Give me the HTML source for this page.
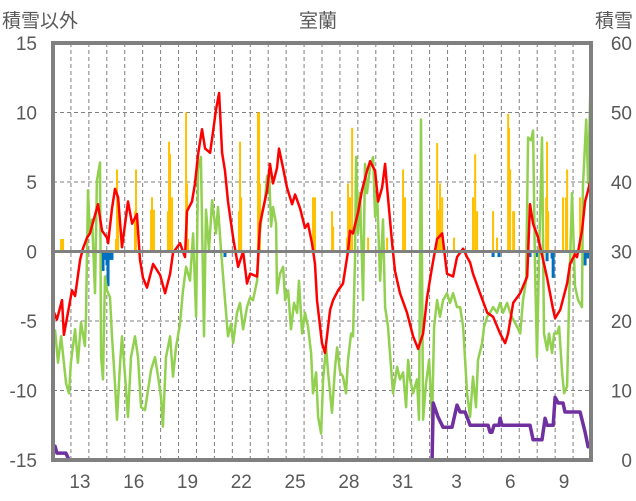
<!DOCTYPE html>
<html><head><meta charset="utf-8">
<style>
html,body{margin:0;padding:0;background:#fff;}
svg{display:block;font-family:"Liberation Sans","Noto Sans CJK JP",sans-serif;}
</style></head>
<body>
<svg id="chart" width="636" height="501" viewBox="0 0 636 501">
  <text x="318" y="27" text-anchor="middle" font-size="19" fill="#595959">室蘭</text>
  <text x="2" y="27" font-size="19" fill="#595959">積雪以外</text>
  <text x="633" y="27" text-anchor="end" font-size="19" fill="#595959">積雪</text>
  <g id="grid"></g>
  <g id="bars"></g>
  <g id="lines"></g>
  <g id="axes"></g>
</svg>
<script>
const dayLabels = ["13","16","19","22","25","28","31","3","6","9"];
const dayLabelIdx = [1,4,7,10,13,16,19,22,25,28];
const leftTicks = [15,10,5,0,-5,-10,-15];
const rightTicks = [60,50,40,30,20,10,0];

const redT = [0,0.22,0.5,0.61,1.06,1.23,1.51,1.67,1.9,2.06,2.51,2.73,3.01,3.07,3.29,3.46,3.63,3.85,4.18,4.41,4.68,4.85,5.02,5.24,5.58,5.97,6.25,6.53,6.69,7.08,7.36,7.47,7.75,7.92,8.09,8.31,8.48,8.76,8.92,9.09,9.26,9.43,9.59,9.76,10.04,10.32,10.6,10.82,10.99,11.38,11.54,11.94,12.1,12.27,12.49,12.6,12.83,13.05,13.33,13.5,13.78,14.05,14.22,14.44,14.61,14.72,15,15.17,15.45,15.62,15.9,16.17,16.45,16.56,16.73,17.01,17.23,17.51,17.68,17.96,18.13,18.35,18.52,18.63,18.91,19.07,19.35,19.74,20.08,20.36,20.64,20.86,21.14,21.42,21.7,21.86,21.97,22.31,22.53,22.87,23.09,23.26,23.42,23.81,24.21,24.54,24.93,25.21,25.38,25.66,26.05,26.44,26.6,26.77,27.05,27.33,27.55,27.89,28,28.28,28.67,28.83,29.11,29.22,29.5,29.67,29.84,30];
const redV = [-4.2,-4.9,-3.5,-6,-2.8,-3.2,-0.6,0.2,1,1.3,3.4,1.5,1,0.6,3.1,4.5,3.9,0.3,3.6,2,2.7,-0.6,-1.9,-2.6,-0.9,-1.7,-3,-1.6,-0.1,0.6,-0.4,2.9,3.6,4.9,7,8.8,7.4,7.1,8.6,10.2,11.4,7.1,5.8,3.6,1,-1.1,0,-2.3,-1.6,-1.8,2,4.4,6.3,4.9,6,7.4,6,4.6,3.4,4.1,3.1,1.7,2,0.6,-0.9,-3.5,-6.6,-7.3,-4.2,-3.5,-2.8,-2.3,0,1.5,1.3,2.8,4.4,5.8,6.5,5.8,3.6,4.6,6.3,4.6,0.6,-1.4,-3,-4.4,-6.1,-7,-5.9,-3.3,-1.1,0.9,1.3,-0.4,-1.6,-1.8,-0.4,0.2,-0.4,-0.8,-1.6,-3,-4.4,-4.7,-5.9,-6.6,-5.9,-3.7,-3,-1.8,3.4,2,1,-0.6,-1.9,-4.2,-4.8,-4.2,-2.3,-0.9,-0.2,-0.4,1.5,3.6,4.4,5.3];

const greenT = [0.11,0.28,0.45,0.73,0.89,1.00,1.23,1.39,1.56,1.78,1.84,1.95,2.06,2.18,2.34,2.45,2.62,2.68,2.79,2.90,3.01,3.18,3.29,3.46,3.57,3.74,3.85,4.02,4.18,4.35,4.57,4.74,4.91,5.13,5.30,5.47,5.69,5.86,6.02,6.13,6.30,6.53,6.69,6.86,7.08,7.25,7.42,7.64,7.81,7.98,8.09,8.25,8.42,8.53,8.70,8.87,9.09,9.20,9.37,9.59,9.76,9.93,10.04,10.26,10.43,10.60,10.82,10.99,11.15,11.38,11.49,11.66,11.82,11.94,12.05,12.16,12.27,12.44,12.49,12.66,12.83,12.94,13.11,13.27,13.44,13.61,13.72,13.89,14.05,14.22,14.39,14.50,14.67,14.78,14.95,15.06,15.23,15.34,15.56,15.73,15.84,16.01,16.17,16.34,16.45,16.62,16.73,16.84,16.90,17.01,17.12,17.29,17.40,17.51,17.68,17.85,17.96,18.07,18.24,18.40,18.52,18.68,18.85,18.96,19.19,19.35,19.52,19.69,19.80,19.91,20.08,20.30,20.41,20.52,20.64,20.80,20.97,21.14,21.25,21.42,21.58,21.75,21.97,22.14,22.31,22.53,22.70,22.87,22.98,23.09,23.26,23.42,23.59,23.70,23.93,24.04,24.21,24.37,24.54,24.76,24.93,25.10,25.32,25.49,25.66,25.88,26.05,26.21,26.38,26.49,26.66,26.77,26.88,26.99,27.11,27.27,27.38,27.55,27.66,27.83,27.94,28.11,28.22,28.39,28.50,28.67,28.78,28.94,29.11,29.28,29.50,29.55,29.73,29.84,29.95,30.00];
const greenV = [-5.6,-8.0,-6.1,-9.5,-10.2,-8,-5.6,-8,-5.1,-6.8,-4.7,4.4,1.3,2.3,-3.0,5.1,6.4,-7.6,-9.2,-1.8,-2.8,-3.3,-6.1,-9.5,-12.1,-8,-6.1,-9.0,-11.9,-7.6,-6.1,-7.6,-11.2,-11.4,-10.0,-8.5,-7.6,-9.0,-10.5,-12.6,-7.6,-6.1,-9.0,-6.9,-5.2,-2.8,-1.1,-2.1,1.3,-4.7,5.9,6.8,-6.1,3.0,0.1,3.7,1.3,3.2,0.1,-3.5,-6.1,-5.2,-6.6,-4.4,-3.7,-5.6,-4.0,-3.3,-3.5,-2.1,0.8,2.8,3.7,5.4,5.6,1.8,3.2,2.0,-3.0,-1.6,-1.1,-3.5,-2.8,-5.6,-3.7,-4.4,-2.1,-5.9,-4.4,-5.4,-7.3,-10.2,-8.7,-11.9,-13.1,-9.2,-6.9,-8.7,-11.6,-8.3,-6.9,-8.7,-9.0,-10.2,-7.8,-5.9,-6.1,-0.6,6.8,1.3,4.2,-3.5,6.3,4.2,6.1,6.8,2.5,4.2,-2.1,2.3,-4.0,-5.4,-8.3,-10.2,-8.3,-9.2,-8.7,-11.2,-7.8,-9.2,-10.2,-9.2,-12.1,9.5,-12.1,-9.5,-7.8,-12.1,-5.4,-3.5,-4.7,-3.5,-3.0,-3.7,-3.0,-4.0,-4.0,-5.4,-7.8,-10.2,-11.9,-9.0,-11.2,-7.8,-6.6,-5.4,-4.7,-4.4,-4.0,-4.4,-3.7,-4.4,-3.7,-4.4,-4.9,-5.4,-5.9,-3.5,-2.1,8.2,8.0,8.7,-1.1,-7.6,0.1,8.2,-5.9,-7.1,-5.9,-7.3,-5.9,-5.9,-5.4,-8.7,-10.2,-9.7,-3.5,4.2,-2.5,-3.5,-4.0,4.6,9.5,4.9,10.9,13.4];

const rainT = [0.45,0.56,3.51,3.57,3.63,4.57,4.63,5.47,5.52,5.63,6.41,6.47,6.53,6.64,7.42,7.47,7.53,10.37,10.43,10.49,11.43,11.49,11.54,14.5,14.61,15.56,15.62,16.4,16.45,16.56,16.68,17.57,18.63,19.52,19.63,21.42,21.47,21.58,21.7,22.36,23.42,23.54,23.65,24.54,24.76,25.38,25.43,25.49,25.66,25.71,26.44,27.5,27.55,27.61,28.44,28.61,28.67,29.39];
const rainV = [0.9,0.9,0.9,5.9,3.9,2.9,5.9,3,3.9,3,2.9,7.9,7,3.9,10,4.9,0.9,2.9,7.9,3.9,10,10,4.9,3.9,3.9,2.9,1.8,1,4.9,3.9,8.9,1,1,5.9,3.9,7.8,3,4.9,3.9,1,3.9,7,2.9,2.9,1,9.9,8.9,5.9,2.9,2.9,1.9,3.9,7.9,2.9,3.9,3.9,5.9,3.9];

const blueT = [2.79,2.9,3.01,3.07,3.18,3.29,9.59,24.54,24.87,26.6,26.99,27.55,27.83,27.89,29.67,29.78,29.84];
const blueV = [-1.4,-0.6,-1,-2.5,-0.6,-0.6,-0.4,-0.4,-0.4,-0.4,-0.4,-0.7,-0.5,-1.9,-1,-0.5,-0.5];

const snowT = [0,0.11,0.22,0.72,0.89,21.14,21.2,21.47,21.75,22.25,22.53,22.7,22.98,23.26,24.26,24.37,24.48,24.59,24.87,24.93,25.04,26.6,26.77,27.27,27.44,27.55,27.89,28,28.17,28.44,28.55,29.39,29.67,29.84,30];
const snowV = [2,2,1,1,0,0,8.2,6.2,4.7,4.7,7.9,6.9,6.9,5,5,4,4,5,5,6,5,5,2.9,2.9,6,5,5,9,8.2,8.2,6.9,6.9,4,1.9,1.9];

const PL=53, PR=591, PT=43, PB=460, NDAYS=30;
function xs(d){return PL+(PR-PL)*d/NDAYS;}
function yl(v){return PT+(15-v)*(PB-PT)/30;}
function yr(v){return PB-v*(PB-PT)/60;}
const NS="http://www.w3.org/2000/svg";
function mk(tag,attrs,parent){const e=document.createElementNS(NS,tag);for(const k in attrs)e.setAttribute(k,attrs[k]);parent.appendChild(e);return e;}
const grid=document.getElementById('grid'),bars=document.getElementById('bars'),lines=document.getElementById('lines'),axes=document.getElementById('axes');

for(let i=1;i<NDAYS;i++){
  const l=mk('line',{x1:xs(i),x2:xs(i),y1:PT,y2:PB,stroke:'#7f7f7f','stroke-width':1,'stroke-dasharray':'4 3'},grid);
  
  
}
leftTicks.forEach(v=>{
  if(v===15||v===-15||v===0)return;
  const l=mk('line',{x1:PL,x2:PR,y1:yl(v),y2:yl(v),stroke:'#7f7f7f','stroke-width':1,'stroke-dasharray':'4 3'},grid);
  
  
});

rainT.forEach((t,i)=>{
  const y0=yl(0),y1=yl(rainV[i]);
  const r=mk('rect',{x:xs(t)-1,y:y1,width:2,height:y0-y1,fill:'#ffc000'},bars);
  
  
});
blueT.forEach((t,i)=>{
  const y0=yl(0),y1=yl(blueV[i]);
  const r=mk('rect',{x:xs(t)-1.5,y:y0,width:3,height:y1-y0,fill:'#0070c0'},bars);
  
  
});

function path(T,V,fy,color,w,name){
  const d=T.map((t,i)=>(i?'L':'M')+xs(t).toFixed(1)+' '+fy(V[i]).toFixed(1)).join(' ');
  const p=mk('path',{d:d,fill:'none',stroke:color,'stroke-width':w,'stroke-linejoin':'round'},lines);
  
  
}
path(greenT,greenV,yl,'#92d050',2.5,'green-series-line');
path(redT,redV,yl,'#ff0000',2.5,'temperature-line');
path(snowT,snowV,yr,'#7030a0',3.5,'snow-depth-line');

const zl=mk('line',{x1:PL,x2:PR,y1:yl(0),y2:yl(0),stroke:'#808080','stroke-width':3},axes);


const fr=mk('rect',{x:PL,y:PT,width:PR-PL,height:PB-PT,fill:'none',stroke:'#808080','stroke-width':4},axes);



leftTicks.forEach(v=>{
  const t=mk('text',{x:37,y:yl(v)+7,'text-anchor':'end','font-size':19,fill:'#595959'},axes);
  t.textContent=String(v);
  
  
});
rightTicks.forEach(v=>{
  const t=mk('text',{x:632,y:yr(v)+7,'text-anchor':'end','font-size':19,fill:'#595959'},axes);
  t.textContent=String(v);
  
  
});
dayLabels.forEach((s,i)=>{
  const t=mk('text',{x:xs(dayLabelIdx[i]+0.5),y:488,'text-anchor':'middle','font-size':19,fill:'#595959'},axes);
  t.textContent=s;
  
  
});
</script>
</body></html>
